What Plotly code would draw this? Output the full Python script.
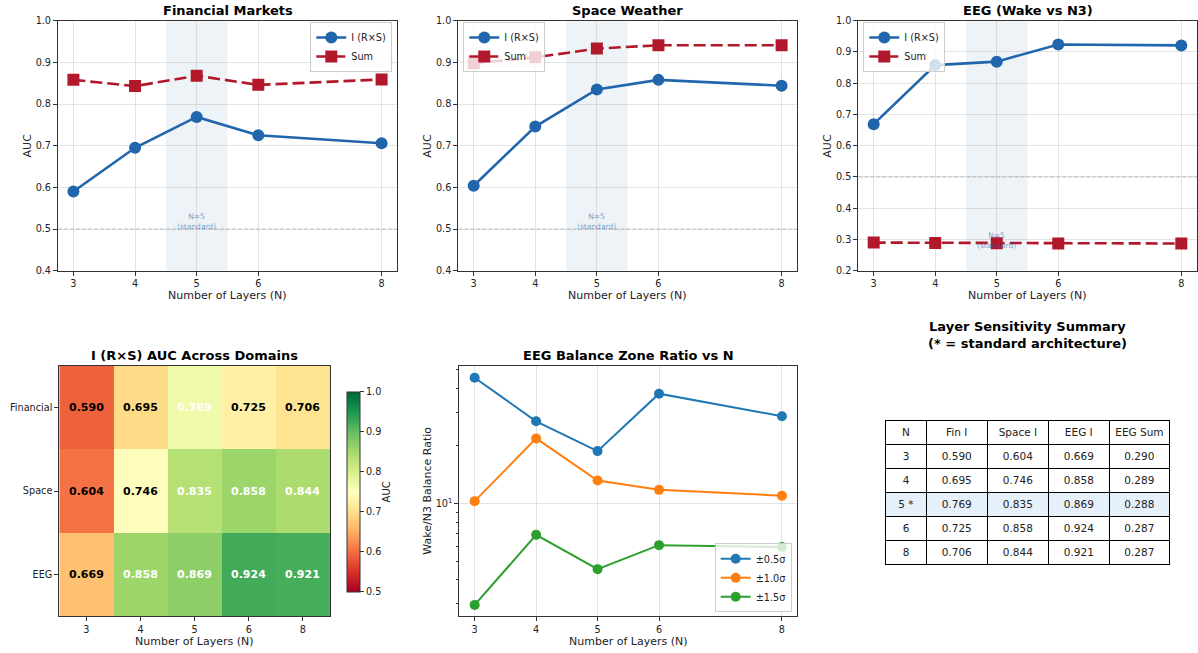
import plotly.graph_objects as go

# ---------------- data ----------------
N = [3, 4, 5, 6, 8]
N_labels = ["3", "4", "5", "6", "8"]
fin_I = [0.590, 0.695, 0.769, 0.725, 0.706]
fin_sum = [0.858, 0.843, 0.868, 0.846, 0.859]
space_I = [0.604, 0.746, 0.835, 0.858, 0.844]
space_sum = [0.898, 0.912, 0.933, 0.941, 0.941]
eeg_I = [0.669, 0.858, 0.869, 0.924, 0.921]
eeg_sum = [0.290, 0.289, 0.288, 0.287, 0.287]
domains = ["Financial", "Space", "EEG"]
ratio_05 = [45.4, 26.9, 18.8, 37.5, 28.6]
ratio_10 = [10.3, 21.9, 13.2, 11.8, 11.0]
ratio_15 = [2.96, 6.87, 4.55, 6.07, 5.93]
table_header = ["N", "Fin I", "Space I", "EEG I", "EEG\u00a0Sum"]
table_N = ["3", "4", "5 *", "6", "8"]
eeg_sum_table = [0.290, 0.289, 0.288, 0.287, 0.287]

W, H = 1198, 653
def fx(p): return p / W
def fy(p): return 1 - p / H

FONT = "DejaVu Sans"
TXT = "#222222"
SPINE = "#333333"
GRID = "rgba(176,176,176,0.35)"
BLUE = "#2166ac"
RED = "#b2182b"
TICKF = dict(family=FONT, size=9.7, color=TXT)

fig = go.Figure()
annotations = []
shapes = []

def add_text(x, y, text, size=11, bold=False, angle=0, color=TXT, xanchor="center", yanchor="middle"):
    annotations.append(dict(
        x=fx(x), y=fy(y), xref="paper", yref="paper", text=f"<b>{text}</b>" if bold else text,
        showarrow=False, textangle=angle, xanchor=xanchor, yanchor=yanchor,
        font=dict(family=FONT, size=size, color=color)))

# ------------- top row line panels -------------
top_panels = [
    ("", 58, 397, fin_I, fin_sum, "Financial Markets", [0.4, 1.0], "legend", 0.517),
    ("2", 458.3, 797, space_I, space_sum, "Space Weather", [0.4, 1.0], "legend2", 0.517),
    ("3", 858.3, 1196.7, eeg_I, eeg_sum, "EEG (Wake vs N3)", [0.2, 1.0], "legend3", 0.297),
]
top_y0, top_y1 = 20.7, 270.7
for sfx, x0, x1, yI, ySum, title, yr, leg, txty in top_panels:
    xa, ya = "x" + sfx, "y" + sfx
    fig.add_trace(go.Scatter(x=N, y=yI, mode="lines+markers", name="I (R×S)",
                             line=dict(color=BLUE, width=2.6),
                             marker=dict(symbol="circle", size=12, color=BLUE),
                             xaxis=xa, yaxis=ya, legend=leg))
    fig.add_trace(go.Scatter(x=N, y=ySum, mode="lines+markers", name="Sum",
                             line=dict(color=RED, width=2.6, dash="12px,5px"),
                             marker=dict(symbol="square", size=12, color=RED),
                             xaxis=xa, yaxis=ya, legend=leg))
    fig.update_layout(**{
        "xaxis" + sfx: dict(domain=[fx(x0), fx(x1)], anchor=ya, range=[2.75, 8.25],
                            tickvals=N, ticks="outside", ticklen=4, tickcolor=SPINE,
                            showline=True, mirror=True, linecolor=SPINE, linewidth=1,
                            showgrid=True, gridcolor=GRID, zeroline=False, tickfont=TICKF),
        "yaxis" + sfx: dict(domain=[fy(top_y1), fy(top_y0)], anchor=xa, range=yr, dtick=0.1,
                            tickformat=".1f", ticks="outside", ticklen=4, tickcolor=SPINE,
                            showline=True, mirror=True, linecolor=SPINE, linewidth=1,
                            showgrid=True, gridcolor=GRID, zeroline=False, tickfont=TICKF),
    })
    shapes.append(dict(type="rect", xref=xa, yref=ya + " domain", x0=4.5, x1=5.5, y0=0, y1=1,
                       fillcolor="rgba(33,102,172,0.08)", line=dict(width=0), layer="below"))
    shapes.append(dict(type="line", xref=xa + " domain", yref=ya, x0=0, x1=1, y0=0.5, y1=0.5,
                       line=dict(color="rgba(128,128,128,0.5)", width=1, dash="4px,2px"), layer="below"))
    annotations.append(dict(x=5, y=txty, xref=xa, yref=ya, text="N=5<br>(standard)", showarrow=False,
                            font=dict(family=FONT, size=7.5, color="rgba(33,102,172,0.6)"),
                            xanchor="center", yanchor="middle"))
    cx = (x0 + x1) / 2
    add_text(cx, 10.5, title, size=13, bold=True, color="#000")
    add_text(cx, 295.7, "Number of Layers (N)", size=11)
    add_text(x0 - 30.3, (top_y0 + top_y1) / 2, "AUC", size=11, angle=-90)

legstyle = dict(bgcolor="rgba(255,255,255,0.8)", bordercolor="#cccccc", borderwidth=1,
                font=dict(family=FONT, size=9.7, color=TXT), xref="paper", yref="paper",
                tracegroupgap=0, itemwidth=30)
fig.update_layout(
    legend=dict(x=fx(392.3), y=fy(22), xanchor="right", yanchor="top", **legstyle),
    legend2=dict(x=fx(463.3), y=fy(22), xanchor="left", yanchor="top", **legstyle),
    legend3=dict(x=fx(863.3), y=fy(22), xanchor="left", yanchor="top", **legstyle),
    legend4=dict(x=fx(791.7), y=fy(612.3), xanchor="right", yanchor="bottom", **legstyle),
)

# ------------- heatmap -------------
hm_x0, hm_x1, hm_y0, hm_y1 = 59.3, 330, 366, 616
z = [fin_I, space_I, eeg_I]
rdylgn = ['rgb(165,0,38)', 'rgb(215,48,39)', 'rgb(244,109,67)', 'rgb(253,174,97)',
          'rgb(254,224,139)', 'rgb(255,255,191)', 'rgb(217,239,139)', 'rgb(166,217,106)',
          'rgb(102,189,99)', 'rgb(26,152,80)', 'rgb(0,104,55)']
cs = [[i / 10, c] for i, c in enumerate(rdylgn)]
fig.add_trace(go.Heatmap(z=z, x=N_labels, y=domains, colorscale=cs, zmin=0.5, zmax=1.0,
                         xaxis="x4", yaxis="y4", showscale=True,
                         colorbar=dict(x=fx(346.7), xanchor="left", y=fy(491.7), yanchor="middle",
                                       len=200 / H, lenmode="fraction", thickness=12.6,
                                       thicknessmode="pixels", xpad=0, ypad=0,
                                       outlinewidth=1, outlinecolor=SPINE,
                                       ticks="outside", ticklen=4, tickcolor=SPINE,
                                       tickvals=[0.5, 0.6, 0.7, 0.8, 0.9, 1.0], tickformat=".1f",
                                       tickfont=TICKF)))
fig.update_layout(
    xaxis4=dict(domain=[fx(hm_x0), fx(hm_x1)], anchor="y4", type="category", range=[-0.5, 4.5],
                ticks="outside", ticklen=4, tickcolor=SPINE, showline=True, mirror=True,
                linecolor=SPINE, linewidth=1, showgrid=False, tickfont=TICKF),
    yaxis4=dict(domain=[fy(hm_y1), fy(hm_y0)], anchor="x4", type="category", range=[2.5, -0.5],
                ticks="outside", ticklen=4, tickcolor=SPINE, showline=True, mirror=True,
                linecolor=SPINE, linewidth=1, showgrid=False, tickfont=TICKF),
)
for i, dname in enumerate(domains):
    for j, nl in enumerate(N_labels):
        v = z[i][j]
        annotations.append(dict(x=j, y=i, xref="x4", yref="y4", text=f"<b>{v:.3f}</b>",
                                showarrow=False,
                                font=dict(family=FONT, size=11, color="white" if v > 0.75 else "black")))
add_text((hm_x0 + hm_x1) / 2, 355.5, "I (R×S) AUC Across Domains", size=13, bold=True, color="#000")
add_text((hm_x0 + hm_x1) / 2, 641.7, "Number of Layers (N)", size=11)
add_text(386.7, 491.7, "AUC", size=10, angle=-90)

# ------------- log ratio panel -------------
p5_x0, p5_x1, p5_y0, p5_y1 = 459.3, 797.3, 366, 616
for vals, nm, col in [(ratio_05, "±0.5σ", "#1f77b4"), (ratio_10, "±1.0σ", "#ff7f0e"),
                      (ratio_15, "±1.5σ", "#2ca02c")]:
    fig.add_trace(go.Scatter(x=N, y=vals, mode="lines+markers", name=nm,
                             line=dict(color=col, width=2),
                             marker=dict(symbol="circle", size=10, color=col),
                             xaxis="x5", yaxis="y5", legend="legend4"))
fig.update_layout(
    xaxis5=dict(domain=[fx(p5_x0), fx(p5_x1)], anchor="y5", range=[2.75, 8.25],
                tickvals=N, ticks="outside", ticklen=4, tickcolor=SPINE,
                showline=True, mirror=True, linecolor=SPINE, linewidth=1,
                showgrid=True, gridcolor=GRID, zeroline=False, tickfont=TICKF),
    yaxis5=dict(domain=[fy(p5_y1), fy(p5_y0)], anchor="x5", type="log", range=[0.4133, 1.7185],
                tickvals=[10], ticktext=["10<sup>1</sup>"], ticks="outside", ticklen=4, tickcolor=SPINE,
                minor=dict(tickvals=[3, 4, 5, 6, 7, 8, 9, 20, 30, 40, 50], ticks="outside",
                           ticklen=2, tickcolor=SPINE, showgrid=False),
                showline=True, mirror=True, linecolor=SPINE, linewidth=1,
                showgrid=True, gridcolor=GRID, zeroline=False, tickfont=TICKF),
)
add_text((p5_x0 + p5_x1) / 2, 355.5, "EEG Balance Zone Ratio vs N", size=13, bold=True, color="#000")
add_text((p5_x0 + p5_x1) / 2, 641.7, "Number of Layers (N)", size=11)
add_text(426.7, (p5_y0 + p5_y1) / 2, "Wake/N3 Balance Ratio", size=11, angle=-90)

# ------------- table -------------
cols = [table_N, [f"{v:.3f}" for v in fin_I], [f"{v:.3f}" for v in space_I],
        [f"{v:.3f}" for v in eeg_I], [f"{v:.3f}" for v in eeg_sum_table]]
row_fill = ["white" if n != "5 *" else "#e6f0fa" for n in table_N]
fig.add_trace(go.Table(
    domain=dict(x=[fx(885.7), fx(1170)], y=[0, fy(420)]),
    columnwidth=[40.6, 61, 61.4, 60.6, 60.7],
    header=dict(values=table_header, fill_color="white", line=dict(color="black", width=1),
                align="center", height=24, font=dict(family=FONT, size=10.5, color=TXT)),
    cells=dict(values=cols, fill_color=[row_fill] * 5, line=dict(color="black", width=1),
               align="center", height=24, font=dict(family=FONT, size=10.5, color=TXT)),
))
add_text(1027.7, 327, "Layer Sensitivity Summary", size=13, bold=True, color="#000")
add_text(1027.7, 343, "(* = standard architecture)", size=13, bold=True, color="#000")

fig.update_layout(width=W, height=H, margin=dict(l=0, r=0, t=0, b=0, autoexpand=False),
                  paper_bgcolor="white", plot_bgcolor="white",
                  annotations=annotations, shapes=shapes, showlegend=True)
fig.write_html("out.html", config={"displayModeBar": False},
               post_script="document.body.style.margin='0px';document.body.style.padding='0px';")
